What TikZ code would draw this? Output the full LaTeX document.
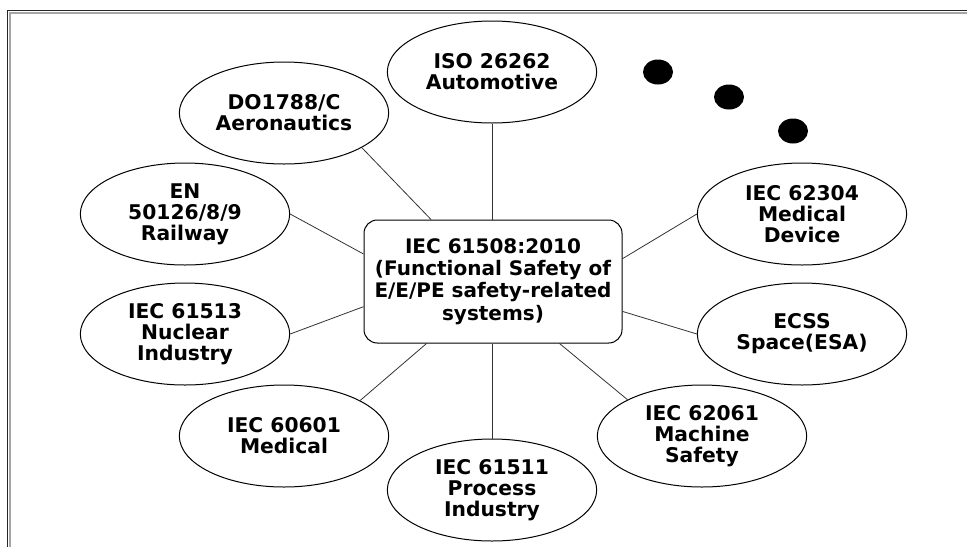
\documentclass[tikz,border=0pt]{standalone}
\usepackage{fontspec}
\setmainfont{DejaVu Sans}
\usetikzlibrary{shapes.geometric,calc}
\tikzset{
  stdnode/.style={ellipse, draw, line width=0.75pt, minimum width=157pt, minimum height=76.5pt,
    inner sep=0pt, align=center, font=\fontsize{15.2}{15.7}\bfseries\selectfont},
  hubnode/.style={rectangle, rounded corners=10pt, draw, line width=0.75pt, minimum width=193.5pt,
    minimum height=92.25pt, inner sep=0pt, align=center, font=\fontsize{15}{16.8}\bfseries\selectfont},
  linkline/.style={line width=0.6pt, draw=black!80},
  dotnode/.style={ellipse, fill=black, minimum width=22.5pt, minimum height=18.75pt, inner sep=0pt},
  frameouter/.style={draw=black!85, line width=1.3pt},
  frameinner/.style={draw=black!35, line width=0.8pt}
}
\begin{document}
\begin{tikzpicture}[x=0.75pt,y=-0.75pt]
\useasboundingbox (0,0) rectangle (967,547);
\draw[frameouter] (7.5,547) -- (7.5,10.5) -- (967,10.5);
\draw[frameinner] (10,547) -- (10,13) -- (967,13);

\node[hubnode] (hub) at (493,281.5) {IEC 61508:2010\\(Functional Safety of\\E/E/PE safety-related\\systems)};

\node[stdnode] (iso) at (492,72) {ISO 26262\\Automotive};
\node[stdnode] (do) at (284,113) {DO1788/C\\Aeronautics};
\node[stdnode] (en) at (185,214) {EN\\50126/8/9\\Railway};
\node[stdnode] (nuc) at (185,334) {IEC 61513\\Nuclear\\Industry};
\node[stdnode] (med) at (284,436) {IEC 60601\\Medical};
\node[stdnode] (proc) at (492,490) {IEC 61511\\Process\\Industry};
\node[stdnode] (mach) at (702,436) {IEC 62061\\Machine\\Safety};
\node[stdnode] (ecss) at (802,334) {ECSS\\Space(ESA)};
\node[stdnode] (mdev) at (802,214) {IEC 62304\\Medical\\Device};

\node[dotnode] (d1) at (658,72) {};
\node[dotnode] (d2) at (729,97) {};
\node[dotnode] (d3) at (793,131) {};

\draw[linkline] (iso.south) -- (iso.south |- hub.north);
\draw[linkline] (do.-24) -- (hub.135.7);
\draw[linkline] (en.east) -- (hub.168.4);
\draw[linkline] (nuc.east) -- (hub.191.2);
\draw[linkline] (med.25.7) -- (hub.223.4);
\draw[linkline] (proc.north) -- (proc.north |- hub.south);
\draw[linkline] (mach.154.4) -- (hub.-43.4);
\draw[linkline] (ecss.west) -- (hub.-13.6);
\draw[linkline] (mdev.west) -- (hub.10.2);
\end{tikzpicture}
\end{document}
